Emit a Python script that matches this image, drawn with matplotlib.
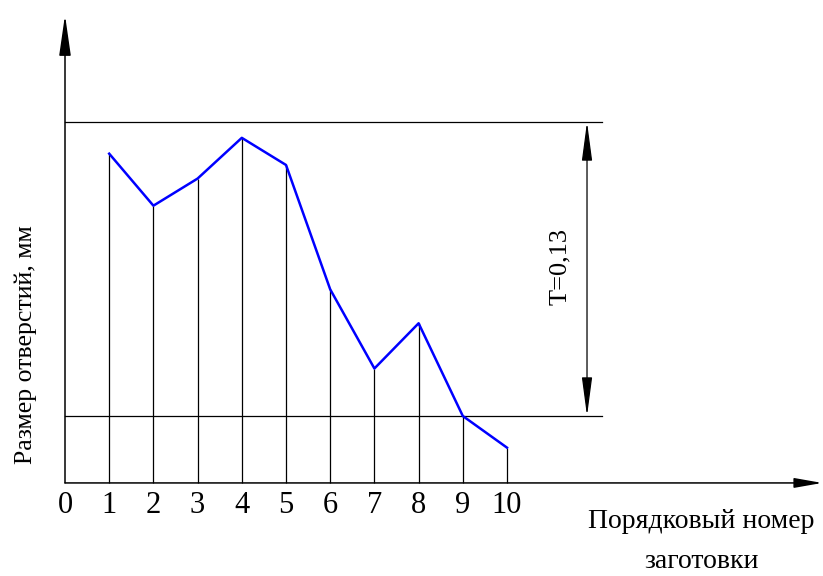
import numpy as np
from matplotlib import pyplot as plt
from matplotlib.patches import FancyArrowPatch

# порядковый номер заготовки и размер отверстия (отклонение от нижней границы допуска, мм)
nomer = [1, 2, 3, 4, 5, 6, 7, 8, 9, 10]
razmer = [0.116, 0.093, 0.105, 0.123, 0.111, 0.056, 0.021, 0.041, 0.000, -0.014]
tick_labels = ["0", "1", "2", "3", "4", "5", "6", "7", "8", "9", "10"]
T = 0.13  # допуск

plt.rcParams['font.family'] = ['Liberation Serif', 'DejaVu Serif']

fig = plt.figure(figsize=(8.23, 5.76), dpi=100)
ax = fig.add_axes([0, 0, 1, 1])
ax.set_xlim(-1.4706, 17.149)
ax.set_ylim(-0.07075, 0.18395)
ax.axis('off')

y0 = -0.0296  # уровень оси абсцисс

# оси со стрелками
ax.add_patch(FancyArrowPatch((0, y0), (0, 0.1773), arrowstyle='-|>,head_length=1.25,head_width=0.18',
                             mutation_scale=20, color='black', lw=1.1, shrinkA=0, shrinkB=0))
ax.add_patch(FancyArrowPatch((0, y0), (17.13, y0), arrowstyle='-|>,head_length=0.85,head_width=0.15',
                             mutation_scale=20, color='black', lw=1.1, shrinkA=0, shrinkB=0))

# границы поля допуска
ax.plot([0, 12.15], [0, 0], color='black', lw=0.9)
ax.plot([0, 12.15], [T, T], color='black', lw=0.9)

# размерная линия
ax.add_patch(FancyArrowPatch((11.81, 0), (11.81, T), arrowstyle='<|-|>,head_length=1.2,head_width=0.16',
                             mutation_scale=20, color='black', lw=0.9, shrinkA=0, shrinkB=0))
ax.text(11.2, 0.0659, "T=0,13", rotation=90, ha='center', va='center', fontsize=19)

# вертикальные линии от точек
ax.vlines(nomer, y0, razmer, color='black', lw=0.9)

# точечная диаграмма
ax.plot(nomer, razmer, color='#0000ff', lw=1.8)

# подписи делений
for i, lbl in enumerate(tick_labels):
    ax.text(i, -0.0394, lbl, ha='center', va='center', fontsize=22)

ax.text(-0.882, 0.0314, "Размер отверстий, мм", rotation=90, ha='center', va='center', fontsize=18.5)
ax.text(14.39, -0.0495, "Порядковый номер", ha='center', va='baseline', fontsize=20)
ax.text(14.41, -0.0672, "заготовки", ha='center', va='baseline', fontsize=20)

plt.savefig("out.png", dpi=100)
